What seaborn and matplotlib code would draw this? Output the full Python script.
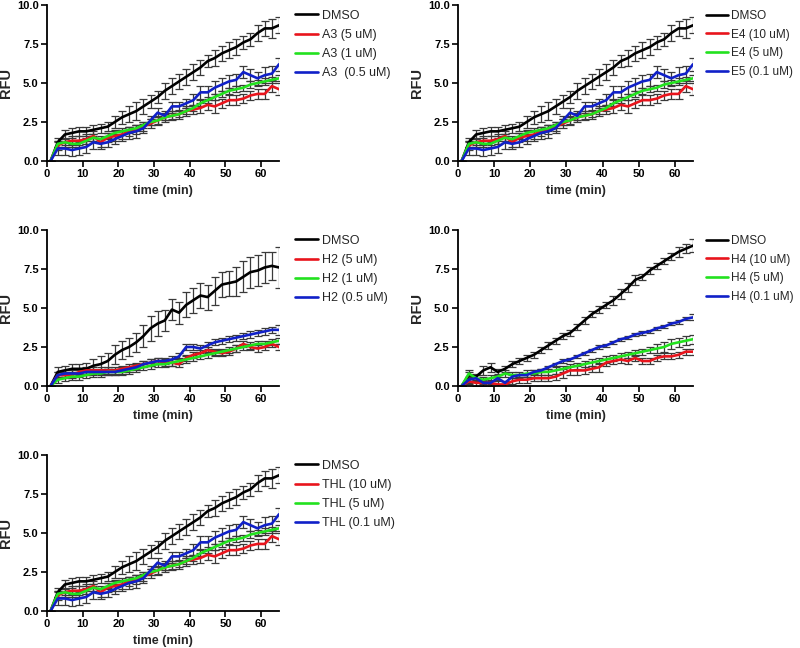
import numpy as np
import pandas as pd
import matplotlib
matplotlib.use("Agg")
import matplotlib.pyplot as plt
import seaborn as sns
from matplotlib.lines import Line2D

sns.set_style("ticks")
plt.rcParams['font.family'] = ['Liberation Sans', 'DejaVu Sans']

# time points (min)
time = [1, 3, 5, 7, 9, 11, 13, 15, 17, 19, 21, 23, 25, 27, 29, 31, 33,
        35, 37, 39, 41, 43, 45, 47, 49, 51, 53, 55, 57, 59, 61, 63, 65]

# ---- dataset used by panels A3 / E4-E5 / THL ----
a_dmso = [0, 1.2, 1.7, 1.8, 1.9, 1.9, 2.0, 2.1, 2.2, 2.5, 2.8, 3.0, 3.2, 3.5, 3.8, 4.1, 4.5,
          4.8, 5.1, 5.4, 5.7, 6.0, 6.4, 6.6, 6.9, 7.1, 7.3, 7.6, 7.8, 8.2, 8.5, 8.5, 8.7]
a_dmso_err = [0, 0.3, 0.3, 0.3, 0.3, 0.3, 0.3, 0.3, 0.3, 0.4, 0.4, 0.5, 0.6, 0.5, 0.4, 0.4, 0.5,
              0.5, 0.5, 0.5, 0.5, 0.5, 0.4, 0.5, 0.5, 0.5, 0.5, 0.4, 0.4, 0.5, 0.5, 0.6, 0.5]
a_hi = [0, 1.0, 1.2, 1.3, 1.3, 1.4, 1.6, 1.2, 1.5, 1.6, 1.7, 1.9, 2.0, 2.2, 2.4, 2.6, 2.8,
        2.9, 3.0, 3.2, 3.3, 3.4, 3.6, 3.5, 3.7, 3.9, 3.9, 4.0, 4.2, 4.3, 4.3, 4.8, 4.6]
a_hi_err = [0, 0.3, 0.3, 0.3, 0.3, 0.3, 0.3, 0.3, 0.3, 0.3, 0.3, 0.3, 0.3, 0.3, 0.3, 0.3, 0.3,
            0.3, 0.3, 0.3, 0.3, 0.3, 0.3, 0.4, 0.3, 0.3, 0.3, 0.3, 0.3, 0.3, 0.3, 0.4, 0.4]
a_mid = [0, 1.1, 1.2, 1.1, 1.1, 1.3, 1.5, 1.4, 1.6, 1.8, 1.9, 2.0, 2.1, 2.3, 2.5, 2.6, 2.8,
         2.9, 3.0, 3.2, 3.4, 3.7, 3.9, 4.1, 4.3, 4.5, 4.6, 4.7, 4.9, 5.0, 5.1, 5.2, 5.3]
a_mid_err = [0, 0.2, 0.2, 0.2, 0.2, 0.2, 0.2, 0.2, 0.2, 0.2, 0.2, 0.2, 0.2, 0.2, 0.2, 0.2, 0.2,
             0.2, 0.2, 0.2, 0.2, 0.2, 0.2, 0.2, 0.2, 0.2, 0.2, 0.2, 0.2, 0.2, 0.2, 0.2, 0.2]
a_lo = [0, 0.8, 0.8, 0.7, 0.8, 0.9, 1.2, 1.1, 1.2, 1.4, 1.6, 1.8, 1.9, 2.1, 2.6, 3.1, 2.9,
        3.5, 3.5, 3.7, 3.9, 4.4, 4.4, 4.7, 4.9, 5.1, 5.2, 5.7, 5.5, 5.3, 5.5, 5.6, 6.2]
a_lo_err = [0, 0.4, 0.4, 0.4, 0.4, 0.4, 0.4, 0.3, 0.3, 0.3, 0.3, 0.4, 0.4, 0.3, 0.3, 0.3, 0.3,
            0.3, 0.3, 0.3, 0.4, 0.4, 0.4, 0.4, 0.4, 0.4, 0.4, 0.4, 0.4, 0.4, 0.5, 0.5, 0.4]

# ---- dataset H2 ----
h2_dmso = [0, 0.9, 1.0, 1.1, 1.1, 1.1, 1.3, 1.4, 1.6, 2.0, 2.3, 2.5, 2.8, 3.2, 3.7, 4.0, 4.2,
           4.9, 4.7, 5.2, 5.5, 5.8, 5.7, 6.1, 6.5, 6.6, 6.7, 7.0, 7.3, 7.4, 7.6, 7.7, 7.6]
h2_dmso_err = [0, 0.3, 0.3, 0.3, 0.3, 0.4, 0.4, 0.5, 0.5, 0.6, 0.6, 0.6, 0.6, 0.7, 0.8, 0.8, 0.7,
               0.7, 0.7, 0.8, 0.8, 0.8, 0.8, 0.9, 0.8, 0.8, 0.9, 1.0, 1.0, 1.0, 1.0, 0.9, 1.3]
h2_hi = [0, 0.7, 0.7, 0.7, 0.9, 1.0, 1.0, 1.0, 1.0, 1.0, 1.1, 1.2, 1.3, 1.4, 1.5, 1.6, 1.5,
         1.5, 1.4, 1.8, 2.0, 2.1, 2.3, 2.2, 2.1, 2.2, 2.4, 2.7, 2.5, 2.4, 2.5, 2.7, 2.5]
h2_hi_err = [0, 0.2, 0.2, 0.2, 0.2, 0.2, 0.2, 0.2, 0.2, 0.2, 0.2, 0.2, 0.2, 0.2, 0.2, 0.2, 0.2,
             0.2, 0.2, 0.2, 0.2, 0.2, 0.2, 0.2, 0.2, 0.2, 0.2, 0.2, 0.2, 0.2, 0.2, 0.2, 0.2]
h2_mid = [0, 0.4, 0.5, 0.6, 0.6, 0.7, 0.8, 0.8, 0.9, 0.9, 0.9, 1.0, 1.1, 1.2, 1.3, 1.4, 1.4,
          1.5, 1.6, 1.7, 1.8, 1.9, 2.0, 2.1, 2.2, 2.3, 2.4, 2.5, 2.6, 2.7, 2.7, 2.8, 2.9]
h2_mid_err = [0, 0.2, 0.2, 0.2, 0.2, 0.2, 0.2, 0.2, 0.2, 0.2, 0.2, 0.2, 0.2, 0.2, 0.2, 0.2, 0.2,
              0.2, 0.2, 0.2, 0.2, 0.2, 0.2, 0.2, 0.2, 0.2, 0.2, 0.2, 0.2, 0.2, 0.2, 0.2, 0.2]
h2_lo = [0, 0.7, 0.8, 0.8, 0.8, 0.9, 0.9, 0.9, 0.9, 0.9, 1.0, 1.1, 1.2, 1.4, 1.5, 1.6, 1.6,
         1.7, 1.9, 2.5, 2.5, 2.4, 2.6, 2.8, 2.9, 3.0, 3.1, 3.2, 3.3, 3.4, 3.5, 3.6, 3.6]
h2_lo_err = [0, 0.2, 0.2, 0.2, 0.2, 0.2, 0.2, 0.2, 0.2, 0.2, 0.2, 0.2, 0.2, 0.2, 0.2, 0.2, 0.2,
             0.2, 0.2, 0.2, 0.2, 0.2, 0.2, 0.2, 0.2, 0.2, 0.2, 0.2, 0.2, 0.2, 0.2, 0.2, 0.3]

# ---- dataset H4 ----
h4_dmso = [0, 0.7, 0.6, 1.0, 1.2, 0.9, 1.1, 1.4, 1.6, 1.8, 2.0, 2.3, 2.6, 2.9, 3.2, 3.4, 3.8,
           4.2, 4.6, 4.9, 5.2, 5.5, 5.9, 6.3, 6.8, 7.0, 7.4, 7.7, 8.0, 8.3, 8.6, 8.8, 9.0]
h4_dmso_err = [0, 0.2, 0.2, 0.3, 0.3, 0.2, 0.2, 0.2, 0.2, 0.2, 0.2, 0.2, 0.2, 0.2, 0.2, 0.2, 0.2,
               0.2, 0.2, 0.2, 0.2, 0.3, 0.3, 0.3, 0.3, 0.2, 0.2, 0.2, 0.2, 0.2, 0.3, 0.3, 0.4]
h4_hi = [0, 0.3, 0.2, 0.2, 0.2, 0.1, 0.1, 0.3, 0.4, 0.4, 0.5, 0.5, 0.5, 0.6, 0.8, 1.0, 1.0,
         1.0, 1.1, 1.2, 1.5, 1.6, 1.7, 1.6, 1.8, 1.6, 1.6, 1.8, 1.9, 1.9, 2.0, 2.2, 2.2]
h4_hi_err = [0, 0.2, 0.2, 0.2, 0.2, 0.2, 0.2, 0.2, 0.2, 0.2, 0.2, 0.2, 0.2, 0.2, 0.3, 0.3, 0.3,
             0.2, 0.2, 0.3, 0.2, 0.2, 0.2, 0.2, 0.2, 0.2, 0.2, 0.2, 0.2, 0.2, 0.2, 0.2, 0.2]
h4_mid = [0, 0.8, 0.5, 0.4, 0.5, 0.6, 0.8, 0.7, 0.7, 0.8, 0.8, 0.9, 0.9, 1.0, 1.1, 1.2, 1.3,
          1.4, 1.5, 1.6, 1.7, 1.8, 1.9, 2.0, 2.1, 2.2, 2.3, 2.4, 2.5, 2.7, 2.8, 2.9, 3.0]
h4_mid_err = [0, 0.2, 0.2, 0.2, 0.2, 0.2, 0.2, 0.2, 0.2, 0.2, 0.2, 0.2, 0.2, 0.2, 0.2, 0.2, 0.2,
              0.2, 0.2, 0.2, 0.2, 0.2, 0.2, 0.2, 0.2, 0.2, 0.2, 0.3, 0.3, 0.3, 0.3, 0.3, 0.3]
h4_lo = [0, 0.4, 0.5, 0.2, 0.2, 0.5, 0.2, 0.6, 0.7, 0.7, 0.9, 1.0, 1.2, 1.4, 1.6, 1.7, 1.9,
         2.1, 2.3, 2.5, 2.6, 2.8, 3.0, 3.1, 3.3, 3.4, 3.5, 3.7, 3.8, 4.0, 4.1, 4.3, 4.4]
h4_lo_err = [0, 0.2, 0.2, 0.1, 0.1, 0.1, 0.1, 0.1, 0.1, 0.1, 0.1, 0.1, 0.1, 0.1, 0.1, 0.1, 0.1,
             0.1, 0.1, 0.1, 0.1, 0.1, 0.1, 0.1, 0.1, 0.1, 0.1, 0.1, 0.1, 0.1, 0.1, 0.1, 0.2]

# legend labels per panel
labels_a3 = ["DMSO", "A3 (5 uM)", "A3 (1 uM)", "A3  (0.5 uM)"]
labels_e4 = ["DMSO", "E4 (10 uM)", "E4 (5 uM)", "E5 (0.1 uM)"]
labels_h2 = ["DMSO", "H2 (5 uM)", "H2 (1 uM)", "H2 (0.5 uM)"]
labels_h4 = ["DMSO", "H4 (10 uM)", "H4 (5 uM)", "H4 (0.1 uM)"]
labels_thl = ["DMSO", "THL (10 uM)", "THL (5 uM)", "THL (0.1 uM)"]

colors = ["#000000", "#e8141c", "#22e11e", "#1020c8"]

ds_a = ([a_dmso, a_hi, a_mid, a_lo], [a_dmso_err, a_hi_err, a_mid_err, a_lo_err])
ds_h2 = ([h2_dmso, h2_hi, h2_mid, h2_lo], [h2_dmso_err, h2_hi_err, h2_mid_err, h2_lo_err])
ds_h4 = ([h4_dmso, h4_hi, h4_mid, h4_lo], [h4_dmso_err, h4_hi_err, h4_mid_err, h4_lo_err])

W, H = 800, 648
fig = plt.figure(figsize=(8, 6.48), dpi=100)

def axes_px(x0, x1, ytop, ybot):
    return fig.add_axes([x0 / W, (H - ybot) / H, (x1 - x0) / W, (ybot - ytop) / H])

panels = [
    (axes_px(47, 279, 5, 161), ds_a, labels_a3, 9, 1.069),
    (axes_px(458, 693, 5, 161), ds_a, labels_e4, 8.5, 1.055),
    (axes_px(47, 279, 230, 386), ds_h2, labels_h2, 9, 1.069),
    (axes_px(458, 693, 230, 386), ds_h4, labels_h4, 8.5, 1.055),
    (axes_px(47, 279, 455, 611), ds_a, labels_thl, 9, 1.069),
]

for ax, (means, errs), labels, lfs, lx in panels:
    rows = []
    for lab, m in zip(labels, means):
        for t, v in zip(time, m):
            rows.append({"time": t, "RFU": v, "group": lab})
    df = pd.DataFrame(rows)
    for i, (lab, m, e) in enumerate(zip(labels, means, errs)):
        ax.errorbar(time, m, yerr=e, fmt="none", ecolor="#3a3a3a", elinewidth=0.9,
                    capsize=3, capthick=0.9, zorder=1)
    sns.lineplot(data=df, x="time", y="RFU", hue="group", hue_order=labels,
                 palette=colors, linewidth=1.9, ax=ax, legend=False, zorder=2,
                 errorbar=None)
    ax.set_xlim(0, 65)
    ax.set_ylim(0, 10)
    ax.set_xticks([0, 10, 20, 30, 40, 50, 60])
    ax.set_yticks([0, 2.5, 5.0, 7.5, 10.0])
    ax.set_yticklabels(["0.0", "2.5", "5.0", "7.5", "10.0"])
    for s in ["top", "right"]:
        ax.spines[s].set_visible(False)
    for s in ["left", "bottom"]:
        ax.spines[s].set_linewidth(1.3)
        ax.spines[s].set_color("black")
    ax.tick_params(axis="both", direction="out", length=4, width=1.2,
                   labelsize=8, pad=2, colors="black")
    for lbl in ax.get_xticklabels() + ax.get_yticklabels():
        lbl.set_fontweight("bold")
    ax.set_xlabel("time (min)", fontsize=9, fontweight="bold", labelpad=4)
    ax.set_ylabel("RFU", fontsize=10.5, fontweight="bold", labelpad=3)
    handles = [Line2D([0], [0], color=c, lw=1.9) for c in colors]
    ax.legend(handles, labels, loc="upper left", bbox_to_anchor=(lx, 0.97),
              frameon=False, fontsize=lfs, handlelength=1.85, handletextpad=0.3,
              borderaxespad=0, borderpad=0, labelspacing=0.58)

fig.savefig("out.png", dpi=100)
